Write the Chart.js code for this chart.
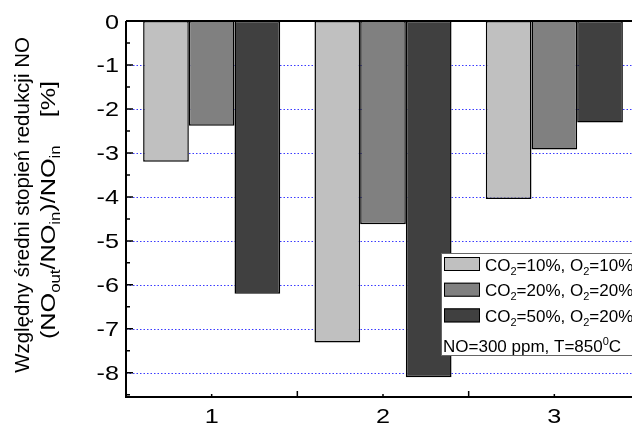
<!DOCTYPE html>
<html><head><meta charset="utf-8">
<script src="https://cdn.jsdelivr.net/npm/chart.js@4.4.1/dist/chart.umd.min.js"></script>
<style>html,body{margin:0;padding:0;overflow:hidden;background:#fff;width:632px;height:425px}</style>
</head><body>
<canvas id="c" width="650" height="425" style="display:block;width:650px;height:425px"></canvas>
<script>
// ---- data ----
const categories = ['1', '2', '3'];
const seriesCO2_10_O2_10 = [-3.20, -7.31, -4.05];
const seriesCO2_20_O2_20 = [-2.38, -4.62, -2.92];
const seriesCO2_50_O2_20 = [-6.20, -8.10, -2.31];
const yTickValues = [0, -1, -2, -3, -4, -5, -6, -7, -8];
const yGridValues = [-1, -2, -3, -4, -5, -6, -7, -8];
const yMinorValues = [-0.5, -1.5, -2.5, -3.5, -4.5, -5.5, -6.5, -7.5, -8.5];
const legendLabel1 = [['CO', ''], ['2', 'sub'], ['=10%, O', ''], ['2', 'sub'], ['=10%', '']];
const legendLabel2 = [['CO', ''], ['2', 'sub'], ['=20%, O', ''], ['2', 'sub'], ['=20%', '']];
const legendLabel3 = [['CO', ''], ['2', 'sub'], ['=50%, O', ''], ['2', 'sub'], ['=20%', '']];
const legendNote = [['NO=300 ppm, T=850', ''], ['0', 'sup'], ['C', '']];
const yTitleLine1 = [['Względny średni stopień redukcji NO', '']];
const yTitleLine2 = [['(NO', ''], ['out', 'sub'], ['/NO', ''], ['in', 'sub'], [')/NO', ''], ['in', 'sub'], ['    [%]', '']];

const FONT = '"Liberation Sans", Arial, Helvetica, sans-serif';

function richWidth(ctx, segs, size, subSize) {
  let w = 0;
  for (const [t, k] of segs) { ctx.font = (k ? subSize : size) + 'px ' + FONT; w += ctx.measureText(t).width; }
  return w;
}
function drawRich(ctx, segs, x, y, size, subSize, subDy, supDy, center) {
  const total = richWidth(ctx, segs, size, subSize);
  let cx = center ? x - total / 2 : x;
  ctx.textAlign = 'left';
  ctx.textBaseline = 'alphabetic';
  for (const [t, k] of segs) {
    ctx.font = (k ? subSize : size) + 'px ' + FONT;
    const dy = k === 'sub' ? subDy : (k === 'sup' ? -supDy : 0);
    ctx.fillText(t, cx, y + dy);
    cx += ctx.measureText(t).width;
  }
}
function stretchText(ctx, text, x, y, sx, align) {
  ctx.save();
  ctx.translate(x, y);
  ctx.scale(sx, 1);
  ctx.textAlign = align;
  ctx.fillText(text, 0, 0);
  ctx.restore();
}

const decor = {
  id: 'decor',
  beforeDatasetsDraw(chart) {
    const ctx = chart.ctx, ca = chart.chartArea, ys = chart.scales.y;
    ctx.save();
    ctx.strokeStyle = '#3a3aff';
    ctx.lineWidth = 1;
    ctx.setLineDash([1.5, 2]);
    for (const v of yGridValues) {
      const y = Math.round(ys.getPixelForValue(v)) + 0.5;
      ctx.beginPath(); ctx.moveTo(ca.left, y); ctx.lineTo(ca.right, y); ctx.stroke();
    }
    ctx.restore();
  },
  afterDatasetsDraw(chart) {
    const ctx = chart.ctx, ca = chart.chartArea, ys = chart.scales.y, xs = chart.scales.x;
    ctx.save();
    ctx.strokeStyle = '#000';
    ctx.fillStyle = '#000';
    // axis frame
    ctx.lineWidth = 2;
    ctx.beginPath();
    ctx.moveTo(ca.left, ca.top); ctx.lineTo(ca.right, ca.top);
    ctx.moveTo(ca.left, ca.top); ctx.lineTo(ca.left, ca.bottom);
    ctx.moveTo(ca.left - 1, ca.bottom); ctx.lineTo(ca.right, ca.bottom);
    ctx.moveTo(ca.right, ca.top); ctx.lineTo(ca.right, ca.bottom);
    ctx.stroke();
    // y ticks (inward)
    ctx.lineWidth = 1.5;
    ctx.beginPath();
    for (const v of yTickValues) {
      const y = ys.getPixelForValue(v);
      ctx.moveTo(ca.left, y); ctx.lineTo(ca.left + 7, y);
    }
    for (const v of yMinorValues) {
      const y = ys.getPixelForValue(v);
      ctx.moveTo(ca.left, y); ctx.lineTo(ca.left + 4, y);
    }
    // x ticks: major at category boundaries, minor at centers
    for (let i = 0; i < categories.length; i++) {
      const xc = xs.getPixelForValue(i);
      ctx.moveTo(xc, ca.bottom); ctx.lineTo(xc, ca.bottom - 3);
      if (i > 0) {
        const xb = (xs.getPixelForValue(i - 1) + xc) / 2;
        ctx.moveTo(xb, ca.bottom); ctx.lineTo(xb, ca.bottom - 6);
      }
    }
    ctx.stroke();
    // y tick labels
    ctx.font = '21px ' + FONT;
    ctx.textBaseline = 'alphabetic';
    for (const v of yTickValues) {
      const y = ys.getPixelForValue(v);
      stretchText(ctx, String(v), ca.left - 7, y + 7.5, 1.2, 'right');
    }
    // x tick labels
    for (let i = 0; i < categories.length; i++) {
      stretchText(ctx, categories[i], xs.getPixelForValue(i), ca.bottom + 26, 1.2, 'center');
    }
    // y title
    const ymid = (ca.top + ca.bottom) / 2 - 4;
    ctx.save();
    ctx.translate(29, ymid);
    ctx.rotate(-Math.PI / 2);
    ctx.scale(0.975, 1);
    drawRich(ctx, yTitleLine1, 0, 0, 21, 13, 5, 8, true);
    ctx.restore();
    ctx.save();
    ctx.translate(55, ymid + 5);
    ctx.rotate(-Math.PI / 2);
    ctx.scale(1.2, 1);
    drawRich(ctx, yTitleLine2, 0, 0, 21, 14, 5, 8, true);
    ctx.restore();
    // legend box
    const lx = 441, ly = 253.5, lw = 205, lh = 102;
    ctx.fillStyle = '#fff';
    ctx.fillRect(lx, ly, lw, lh);
    ctx.strokeStyle = '#666';
    ctx.lineWidth = 1;
    ctx.strokeRect(lx + 0.5, ly, lw, lh);
    const labels = [legendLabel1, legendLabel2, legendLabel3];
    chart.data.datasets.forEach((ds, i) => {
      const ry = 257 + i * 25.7;
      ctx.fillStyle = ds.backgroundColor;
      ctx.fillRect(444, ry, 36, 14);
      ctx.strokeStyle = '#000';
      ctx.lineWidth = 1;
      ctx.strokeRect(444.5, ry + 0.5, 35, 13);
      ctx.fillStyle = '#000';
      drawRich(ctx, labels[i], 485, ry + 13.5, 17, 11, 4, 7, false);
    });
    drawRich(ctx, legendNote, 443, 352, 17, 11, 4, 7, false);
    ctx.restore();
  }
};

new Chart(document.getElementById('c'), {
  type: 'bar',
  data: {
    labels: categories,
    datasets: [
      { label: 'CO2=10%, O2=10%', data: seriesCO2_10_O2_10, backgroundColor: '#c0c0c0' },
      { label: 'CO2=20%, O2=20%', data: seriesCO2_20_O2_20, backgroundColor: '#808080' },
      { label: 'CO2=50%, O2=20%', data: seriesCO2_50_O2_20, backgroundColor: '#404040' }
    ]
  },
  options: {
    responsive: false,
    animation: false,
    devicePixelRatio: 1,
    layout: { padding: { left: 126, right: 10, top: 21, bottom: 28 } },
    datasets: { bar: { borderColor: '#000', borderWidth: 1.5, borderSkipped: false, categoryPercentage: 0.8, barPercentage: 1.0 } },
    plugins: { legend: { display: false }, tooltip: { enabled: false }, title: { display: false } },
    scales: {
      x: { display: false, offset: true },
      y: { display: false, min: -8.55, max: 0 }
    }
  },
  plugins: [decor]
});
</script>
</body></html>
